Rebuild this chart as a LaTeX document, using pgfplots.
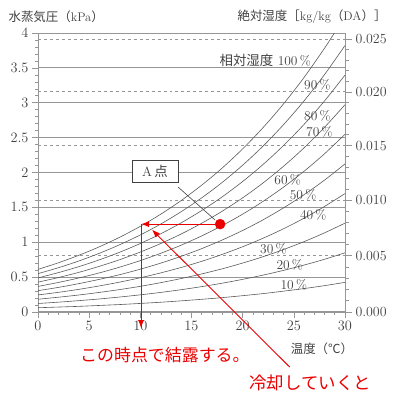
\documentclass[border=0pt]{standalone}
\usepackage{fontspec}
\usepackage{pgfplots}
\pgfplotsset{compat=1.18}
\usepackage{pgfplotstable}
\usetikzlibrary{arrows.meta}
\newfontfamily\jp{Noto Sans CJK JP}
\definecolor{gridc}{RGB}{150,150,150}
\definecolor{curvec}{RGB}{90,90,90}
\definecolor{txtc}{RGB}{65,65,65}
\definecolor{myred}{RGB}{235,0,0}

\pgfplotstableread{
T  r10   r20   r30   r40   r50   r60   r70   r80   r90
0  0.061 0.122 0.183 0.245 0.306 0.367 0.428 0.489 0.550
2  0.071 0.141 0.212 0.282 0.353 0.424 0.494 0.565 0.635
4  0.081 0.163 0.244 0.325 0.407 0.488 0.569 0.651 0.732
6  0.094 0.187 0.281 0.374 0.468 0.561 0.655 0.748 0.842
8  0.107 0.215 0.322 0.429 0.536 0.644 0.751 0.858 0.966
10 0.123 0.246 0.368 0.491 0.614 0.737 0.860 0.982 1.105
12 0.140 0.281 0.421 0.561 0.701 0.842 0.982 1.122 1.262
14 0.160 0.320 0.480 0.639 0.799 0.959 1.119 1.279 1.439
16 0.182 0.364 0.546 0.727 0.909 1.091 1.273 1.455 1.637
18 0.206 0.413 0.619 0.826 1.032 1.239 1.445 1.651 1.858
20 0.234 0.468 0.702 0.936 1.169 1.403 1.637 1.871 2.105
22 0.264 0.529 0.793 1.058 1.322 1.587 1.851 2.116 2.380
24 0.299 0.597 0.896 1.194 1.493 1.791 2.090 2.388 2.687
26 0.336 0.673 1.009 1.345 1.682 2.018 2.354 2.690 3.027
28 0.378 0.756 1.135 1.513 1.891 2.269 2.648 3.026 3.404
30 0.425 0.849 1.274 1.698 2.123 2.548 2.972 3.397 3.821
}\rhtable

\begin{document}
\begin{tikzpicture}
\useasboundingbox (-38bp,-84bp) rectangle (368bp,312bp);
\begin{axis}[
  at={(0,0)}, anchor=south west,
  scale only axis, width=307bp, height=279bp,
  xmin=0, xmax=30, ymin=0, ymax=4,
  xtick={0,5,...,30}, minor x tick num=4,
  ytick={0,0.5,...,4}, minor y tick num=4,
  tick pos=left, tick align=outside,
  major tick length=6bp, minor tick length=3bp,
  every tick/.style={gridc, line width=0.6bp},
  axis line style={gridc, line width=0.9bp},
  ymajorgrids, major grid style={gridc, line width=1bp},
  tick label style={font=\fontsize{14}{14}\selectfont, text=txtc},
  clip=false,
]
% absolute humidity dashed lines
\addplot[gridc, dashed, line width=0.7bp] coordinates {(0,0.808) (30,0.808)};
\addplot[gridc, dashed, line width=0.7bp] coordinates {(0,1.603) (30,1.603)};
\addplot[gridc, dashed, line width=0.7bp] coordinates {(0,2.386) (30,2.386)};
\addplot[gridc, dashed, line width=0.7bp] coordinates {(0,3.157) (30,3.157)};
\addplot[gridc, dashed, line width=0.7bp] coordinates {(0,3.915) (30,3.915)};
% relative humidity curves
\foreach \c in {r10,r20,r30,r40,r50,r60,r70,r80,r90}{
  \addplot[curvec, line width=0.6bp, smooth] table[x=T, y=\c] {\rhtable};
}
\addplot[curvec, line width=0.6bp, smooth] coordinates {
(0,0.611) (2,0.706) (4,0.814) (6,0.935) (8,1.073) (10,1.228) (12,1.403) (14,1.599)
(16,1.819) (18,2.064) (20,2.339) (22,2.645) (24,2.985) (26,3.363) (28,3.782) (28.96,4.0)};
% curve labels
\node[txtc, font=\fontsize{13.5}{14}\selectfont] at (axis cs:22.2,3.61) {{\jp 相対湿度} 100\,\%};
\node[txtc, font=\fontsize{13.5}{14}\selectfont] at (axis cs:27.3,3.25) {90\,\%};
\node[txtc, font=\fontsize{13.5}{14}\selectfont] at (axis cs:27.3,2.81) {80\,\%};
\node[txtc, font=\fontsize{13.5}{14}\selectfont] at (axis cs:27.5,2.58) {70\,\%};
\node[txtc, font=\fontsize{13.5}{14}\selectfont] at (axis cs:24.4,1.89) {60\,\%};
\node[txtc, font=\fontsize{13.5}{14}\selectfont] at (axis cs:25.9,1.68) {50\,\%};
\node[txtc, font=\fontsize{13.5}{14}\selectfont] at (axis cs:26.9,1.39) {40\,\%};
\node[txtc, font=\fontsize{13.5}{14}\selectfont] at (axis cs:23.0,0.90) {30\,\%};
\node[txtc, font=\fontsize{13.5}{14}\selectfont] at (axis cs:24.6,0.67) {20\,\%};
\node[txtc, font=\fontsize{13.5}{14}\selectfont] at (axis cs:25.0,0.39) {10\,\%};
% A point box and leader
\addplot[txtc, line width=0.6bp] coordinates {(13.7,1.79) (17.3,1.32)};
\node[draw=txtc, fill=white, line width=0.7bp, minimum width=46bp, minimum height=22bp, inner sep=0pt, text=txtc, font=\fontsize{13.5}{14}\selectfont] at (axis cs:11.43,2.01) {A\,{\jp 点}};
% red annotations
\addplot[myred, line width=0.9bp, -{Latex[length=8bp,width=6bp]}] coordinates {(17.8,1.26) (10.07,1.26)};
\addplot[myred, line width=0.9bp, -{Latex[length=8bp,width=6bp]}] coordinates {(10.07,1.26) (10.07,-0.23)};
\addplot[myred, line width=0.9bp, -{Latex[length=8bp,width=6bp]}] coordinates {(24.6,-0.79) (11.14,1.18)};
\addplot[myred, only marks, mark=*, mark size=5bp] coordinates {(17.8,1.26)};
% titles and texts
\node[anchor=west, text=txtc, font=\fontsize{12.5}{13}\selectfont] at (axis cs:-3.22,4.23) {{\jp 水蒸気圧（}kPa{\jp ）}};
\node[anchor=east, text=txtc, font=\fontsize{12.5}{13}\selectfont] at (axis cs:34.4,4.23) {{\jp 絶対湿度［}kg/kg{\jp （}DA{\jp ）］}};
\node[text=txtc, font=\fontsize{12.5}{13}\selectfont] at (axis cs:27.75,-0.53) {\jp 温度（℃）};
\node[text=myred, font=\fontsize{17}{18}\selectfont] at (axis cs:12.4,-0.62) {\jp この時点で結露する。};
\node[text=myred, font=\fontsize{17.5}{18}\selectfont] at (axis cs:26.6,-1.02) {\jp 冷却していくと};
\end{axis}
\begin{axis}[
  at={(0,0)}, anchor=south west,
  scale only axis, width=307bp, height=279bp,
  xmin=0, xmax=30, ymin=0, ymax=4,
  axis x line=none, axis y line*=right,
  ytick={0,0.808,1.603,2.386,3.157,3.915},
  yticklabels={0.000,0.005,0.010,0.015,0.020,0.025},
  minor ytick={0.163,0.325,0.486,0.647,0.968,1.128,1.287,1.445,1.761,1.918,2.074,2.230,2.541,2.696,2.850,3.003,3.309,3.461,3.613,3.764},
  tick align=outside,
  major tick length=7bp, minor tick length=3.5bp,
  every tick/.style={gridc, line width=0.6bp},
  axis line style={gridc, line width=0.9bp},
  tick label style={font=\fontsize{14}{14}\selectfont, text=txtc},
]
\addplot[draw=none] coordinates {(0,0) (30,4)};
\end{axis}
\end{tikzpicture}
\end{document}
